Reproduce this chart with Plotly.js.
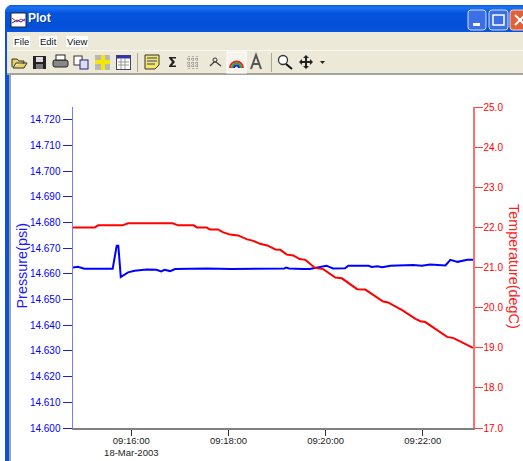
<!DOCTYPE html>
<html><head><meta charset="utf-8">
<script src="https://cdn.plot.ly/plotly-3.0.1.min.js"></script>
<style>
html,body{margin:0;padding:0;width:523px;height:461px;overflow:hidden;background:#fff;font-family:"Liberation Sans",Arial,sans-serif}
#win{position:absolute;left:5px;top:5px;width:530px;height:470px;border-radius:7px 7px 0 0;background:linear-gradient(90deg,#0a53e0,#0a53e0 60%,#1c4fc0)}
#tb{position:absolute;left:0;top:0;width:100%;height:27px;border-radius:7px 7px 0 0;background:linear-gradient(#0a5ae6 0,#1b74f2 10%,#0653dd 30%,#0450d8 80%,#0a55dc 100%)}
#ttl{position:absolute;left:23px;top:6px;color:#fff;font-weight:bold;font-size:12px;text-shadow:1px 1px 0 #003aa0}
#menu{position:absolute;left:7px;top:32px;width:516px;height:18px;background:#ece9d8;font-size:9.5px;color:#111}
#menu span{position:absolute;top:4px;background:#fff;padding:0 1px}
#tools{position:absolute;left:7px;top:50px;width:516px;height:24px;background:#ece9d8;border-top:1px solid #f8f7f0;box-sizing:border-box}
#edge{position:absolute;left:7px;top:73px;width:516px;height:2px;background:#a6a498}
#client{position:absolute;left:9px;top:75px;width:514px;height:386px;background:#fff;border-left:2px solid #a0a0a0;box-sizing:border-box}
#chrome{position:absolute;left:0;top:0}
#plot{position:absolute;left:0;top:0;width:523px;height:461px}
</style></head><body>
<div id="win"><div id="tb"><div id="ttl">Plot</div></div></div>
<div id="menu"><span style="left:6px">File</span><span style="left:32px">Edit</span><span style="left:59px">View</span></div>
<div id="tools"></div><div id="edge"></div><div id="client"></div>
<svg id="chrome" width="523" height="80" viewBox="0 0 523 80">
 <rect x="11" y="13" width="15" height="14" fill="#fff" stroke="#223"/>
 <path d="M12 18l5 4 4-3 4 2" stroke="#d22" fill="none"/><path d="M12 23l5-3 4 2 4-3" stroke="#22c" fill="none"/>
 <rect x="468" y="10" width="18" height="20" rx="3" fill="#3a6fe6" stroke="#cfe0ff"/><rect x="473" y="23" width="7" height="3" fill="#fff"/>
 <rect x="489" y="10" width="19" height="20" rx="3" fill="#3a6fe6" stroke="#cfe0ff"/><rect x="493" y="15" width="11" height="10" fill="none" stroke="#fff" stroke-width="1.5"/>
 <rect x="510" y="10" width="20" height="20" rx="3" fill="#e0603a" stroke="#ffd8c8"/><path d="M515 15l10 10M525 15l-10 10" stroke="#fff" stroke-width="2"/>
 <path d="M12 67v-8h5l2 2h5v2h-8l-3 5h11l3-5h-4" fill="#e9d35a" stroke="#333"/>
 <rect x="33" y="56" width="13" height="13" fill="#222"/><rect x="36" y="57" width="7" height="5" fill="#ddd"/><rect x="36" y="64" width="7" height="5" fill="#777"/>
 <rect x="53" y="60" width="15" height="7" rx="2" fill="#888" stroke="#222"/><rect x="56" y="55" width="9" height="5" fill="#fff" stroke="#222"/>
 <rect x="74" y="56" width="8" height="9" fill="#fff" stroke="#333"/><rect x="80" y="60" width="8" height="9" fill="#dde" stroke="#228"/>
 <rect x="95" y="55" width="15" height="15" fill="#b8b8b8"/><rect x="95" y="60" width="15" height="4" fill="#f5e60a"/><rect x="101" y="55" width="4" height="15" fill="#f5e60a"/>
 <rect x="116.500" y="55.500" width="14" height="14" fill="#fff" stroke="#446"/><rect x="116.500" y="55.500" width="14" height="3" fill="#33a"/><path d="M118 62h11M118 65h11M121 59v10M125 59v10" stroke="#999"/>
 <path d="M137.500 53v19M271.500 53v19" stroke="#aca899"/>
 <path d="M145 55h14v10l-4 4h-10z" fill="#f5e75a" stroke="#333"/><path d="M147 58h10M147 61h10M147 64h8" stroke="#33a"/>
 <path d="M169 57h7v1.500h-4l3 3.500-3 3.500h4v1.500h-7v-1l3-4-3-4z" fill="#222"/>
 <path d="M189 56v13M193 56v13M197 56v13M187 59h12M187 63h12M187 66h12" stroke="#777" stroke-dasharray="1 1"/>
 <path d="M210 66l4-4 2 0 5 4" fill="none" stroke="#333" stroke-width="1.200"/><circle cx="215" cy="60" r="2" fill="none" stroke="#333"/>
 <rect x="227" y="52" width="19" height="21" fill="#f6f4ec" stroke="#fff"/>
 <path d="M230 68a6.500 6.500 0 0 1 13 0" fill="none" stroke="#e22" stroke-width="2"/><path d="M232 68a4.500 4.500 0 0 1 9 0" fill="none" stroke="#2a2" stroke-width="2"/><path d="M234 68a2.500 2.500 0 0 1 5 0" fill="none" stroke="#22d" stroke-width="2"/>
 <path d="M251 69l5-14 5 14M253 64h6" fill="none" stroke="#555" stroke-width="2"/>
 <circle cx="283" cy="60" r="4.500" fill="#fff" stroke="#333" stroke-width="1.300"/><path d="M286 64l6 5" stroke="#111" stroke-width="2"/>
 <path d="M306 55l3 3h-2v3h3v-2l3 3-3 3v-2h-3v3h2l-3 3-3-3h2v-3h-3v2l-3-3 3-3v2h3v-3h-2z" fill="#222"/>
 <path d="M320 61h5l-2.500 3z" fill="#222"/>
</svg>
<div id="plot"></div>
<script>
var pressureTimes=["09:14:48","09:14:54","09:15:02","09:15:37","09:15:42","09:15:44","09:15:47","09:15:56","09:16:04","09:16:19","09:16:31","09:16:37","09:16:41","09:16:48","09:16:54","09:17:33","09:18:04","09:18:20","09:18:25","09:18:29","09:18:49","09:19:09","09:19:11","09:19:15","09:19:32","09:19:40","09:19:45","09:20:01","09:20:09","09:20:24","09:20:28","09:20:53","09:20:57","09:21:04","09:21:10","09:21:20","09:21:48","09:21:59","09:22:09","09:22:28","09:22:34","09:22:43","09:22:55","09:23:02"];
var pressureValues=[14.6625,14.6628,14.662,14.662,14.671,14.671,14.6588,14.6606,14.6612,14.6617,14.6616,14.661,14.6616,14.6611,14.6619,14.6621,14.6619,14.6619,14.6621,14.6619,14.6621,14.6621,14.6625,14.6621,14.6619,14.6619,14.6622,14.6632,14.6621,14.6622,14.6632,14.6632,14.6627,14.663,14.6626,14.6632,14.6635,14.6632,14.6637,14.6633,14.6655,14.6647,14.6655,14.6655];
var tempTimes=["09:14:48","09:15:15","09:15:19","09:15:49","09:15:56","09:16:51","09:16:58","09:17:17","09:17:21","09:17:33","09:17:37","09:17:47","09:17:53","09:18:02","09:18:12","09:18:23","09:18:30","09:18:39","09:18:48","09:18:58","09:19:04","09:19:12","09:19:20","09:19:28","09:19:35","09:19:47","09:19:57","09:20:12","09:20:20","09:20:39","09:20:49","09:21:04","09:21:11","09:21:17","09:21:35","09:21:51","09:21:57","09:22:03","09:22:30","09:22:38","09:22:53","09:23:02"];
var tempValues=[22.0,22.0,22.05,22.05,22.1,22.1,22.05,22.05,22.0,22.0,21.95,21.95,21.88,21.82,21.8,21.7,21.67,21.59,21.55,21.45,21.44,21.32,21.3,21.21,21.19,20.99,20.96,20.75,20.73,20.46,20.45,20.25,20.15,20.13,19.93,19.72,19.66,19.64,19.27,19.24,19.08,19.0];
var day="2003-03-18 ";
var xTickTimes=["09:16:00","09:18:00","09:20:00","09:22:00"];
var xTickLabels=["09:16:00<br>18-Mar-2003","09:18:00","09:20:00","09:22:00"];
var pressureTicks=[14.6,14.61,14.62,14.63,14.64,14.65,14.66,14.67,14.68,14.69,14.7,14.71,14.72];
var tempTicks=[17,18,19,20,21,22,23,24,25];
function d(a){return a.map(function(t){return day+t;});}
var W=523,H=461;
var BLUE="#0000ff",RED="#ff0000";
Plotly.newPlot("plot",[
 {x:d(tempTimes),y:tempValues,yaxis:"y2",mode:"lines",line:{color:RED,width:2},name:"Temperature(degC)",showlegend:false},
 {x:d(pressureTimes),y:pressureValues,mode:"lines",line:{color:BLUE,width:2},name:"Pressure(psi)",showlegend:false}
],{
 width:W,height:H,showlegend:false,
 paper_bgcolor:"rgba(0,0,0,0)",plot_bgcolor:"rgba(0,0,0,0)",
 margin:{l:73,r:50,t:107,b:33,pad:0},
 font:{family:'"Liberation Sans",Arial,sans-serif',size:10},
 xaxis:{type:"date",range:[day+"09:14:48",day+"09:23:02"],tickmode:"array",tickvals:d(xTickTimes),ticktext:xTickLabels,ticks:"outside",ticklen:6,tickcolor:"#333",tickwidth:1,ticklabelstandoff:-3,showgrid:false,zeroline:false,showline:true,linecolor:"#808080",linewidth:1.5,tickangle:0,tickfont:{size:9.5,color:"#222"}},
 yaxis:{range:[14.6,14.725],tickmode:"array",tickvals:pressureTicks,ticktext:pressureTicks.map(function(v){return v.toFixed(3);}),ticks:"outside",ticklen:9,tickcolor:"#2020e0",showgrid:false,zeroline:false,showline:true,linecolor:"#7a7aff",linewidth:1.5,tickfont:{size:10,color:BLUE}},
 yaxis2:{overlaying:"y",side:"right",range:[17,25],tickmode:"array",tickvals:tempTicks,ticktext:tempTicks.map(function(v){return v.toFixed(1);}),ticks:"outside",ticklen:8,tickcolor:"#ff4040",showgrid:false,zeroline:false,showline:true,linecolor:"#ff7070",linewidth:1.5,ticklabelstandoff:-1,tickfont:{size:10,color:RED}},
 annotations:[
  {text:"Pressure(psi)",xref:"paper",yref:"paper",x:(21-73)/400,y:(428.5-266)/321,xanchor:"center",yanchor:"middle",textangle:-90,showarrow:false,font:{size:14.4,color:"#1a1aff"}},
  {text:"Temperature(degC)",xref:"paper",yref:"paper",x:(514-73)/400,y:(428.5-266.5)/321,xanchor:"center",yanchor:"middle",textangle:90,showarrow:false,font:{size:14.4,color:"#ff2020"}}
 ]
},{displayModeBar:false,staticPlot:true});
</script>
</body></html>
